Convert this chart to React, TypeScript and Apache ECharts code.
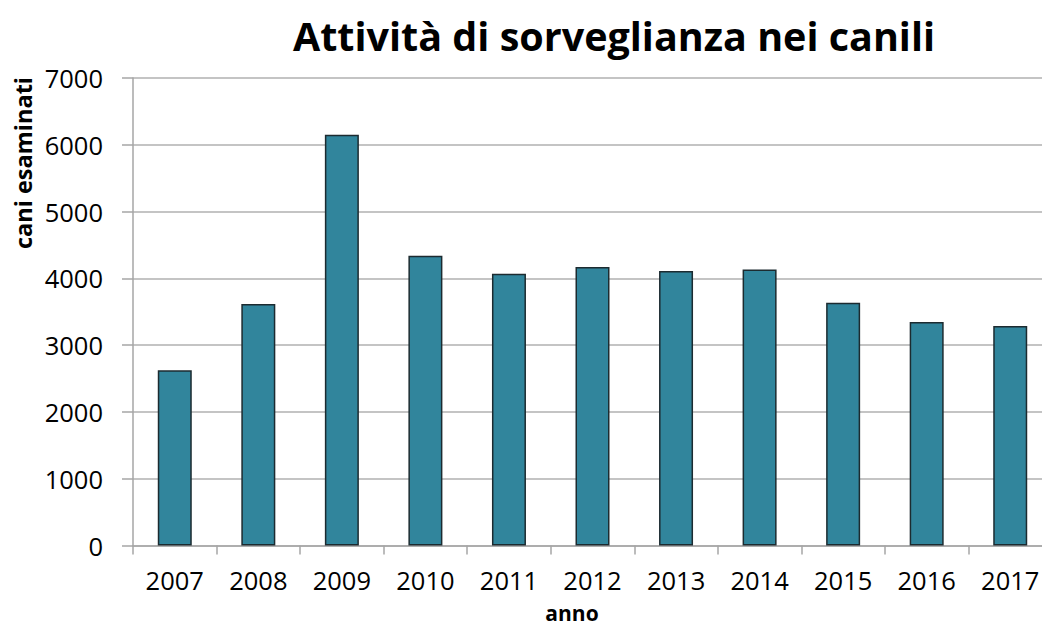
import React, { useEffect, useRef } from "react";
import * as echarts from "echarts";

const years = ["2007", "2008", "2009", "2010", "2011", "2012", "2013", "2014", "2015", "2016", "2017"];
const caniEsaminati = [2625, 3616, 6150, 4340, 4070, 4171, 4111, 4131, 3635, 3345, 3285];
const titleText = "Attività di sorveglianza nei canili";
const yAxisTitle = "cani esaminati";
const xAxisTitle = "anno";

const FONT = "'Open Sans', sans-serif";

export default function App() {
  const ref = useRef<HTMLDivElement>(null);
  useEffect(() => {
    const chart = echarts.init(ref.current!, null, { renderer: "svg" });
    chart.setOption({
      animation: false,
      backgroundColor: "#ffffff",
      graphic: [
        {
          type: "text",
          x: 614,
          y: 36,
          style: {
            text: titleText,
            font: `bold 39.5px ${FONT}`,
            fill: "#000",
            align: "center",
            verticalAlign: "middle",
          },
        },
        {
          type: "text",
          x: 23,
          y: 163,
          rotation: Math.PI / 2,
          style: {
            text: yAxisTitle,
            font: `bold 23.5px ${FONT}`,
            fill: "#000",
            align: "center",
            verticalAlign: "middle",
          },
        },
        {
          type: "text",
          x: 572,
          y: 613,
          style: {
            text: xAxisTitle,
            font: `bold 21px ${FONT}`,
            fill: "#000",
            align: "center",
            verticalAlign: "middle",
          },
        },
      ],
      grid: { left: 133, top: 78, width: 919, bottom: 85.5, containLabel: false },
      xAxis: {
        type: "category",
        data: years,
        boundaryGap: true,
        axisLine: { show: true, lineStyle: { color: "#a6a6a6", width: 1.5 } },
        axisTick: { show: true, length: 9, alignWithLabel: false, lineStyle: { color: "#a6a6a6", width: 1.5 } },
        axisLabel: { margin: 21, fontFamily: FONT, fontSize: 25.5, color: "#000" },
      },
      yAxis: {
        type: "value",
        min: 0,
        max: 7000,
        interval: 1000,
        axisLine: { show: true, lineStyle: { color: "#a6a6a6", width: 1.5 } },
        axisTick: { show: true, length: 11, lineStyle: { color: "#a6a6a6", width: 1.5 } },
        axisLabel: {
          margin: 30,
          fontFamily: FONT,
          fontSize: 25.5,
          color: "#000",
          formatter: (v: number) => String(v),
        },
        splitLine: { show: true, lineStyle: { color: "#b0b0b0", width: 1.5 } },
      },
      series: [
        {
          type: "bar",
          data: caniEsaminati,
          barWidth: 34,
          itemStyle: { color: "#31859c", borderColor: "#1c2b30", borderWidth: 1.5 },
        },
      ],
    });
    return () => chart.dispose();
  }, []);
  return (
    <div
      style={{ position: "fixed", left: 0, top: 0, width: 1042, height: 631, overflow: "hidden", background: "#fff" }}
    >
      <div ref={ref} style={{ width: 1054, height: 631 }} />
    </div>
  );
}
